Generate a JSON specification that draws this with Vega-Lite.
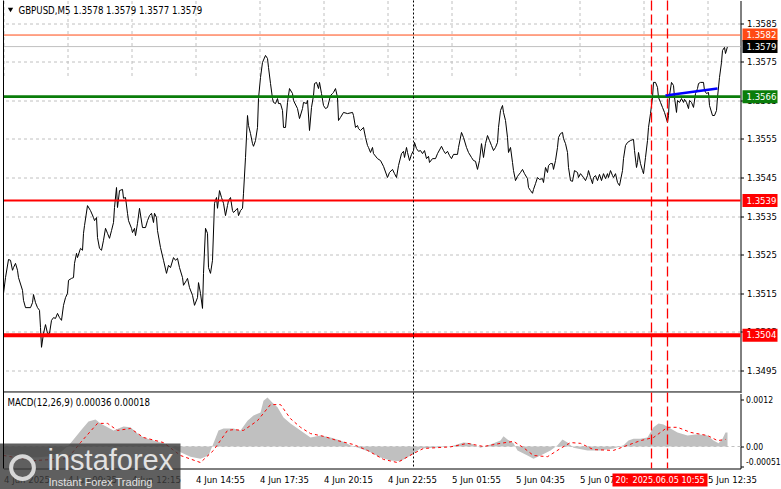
{
"$schema":"https://vega.github.io/schema/vega-lite/v6.json",
"width":737,"height":468,
"autosize":{"type":"none"},
"padding":{"left":3.5,"top":0.5,"right":40.5,"bottom":20.5},
"background":"#ffffff",
"config":{"view":{"stroke":null},"font":"DejaVu Sans Condensed, Liberation Sans, sans-serif","axis":{"labelFont":"DejaVu Sans Condensed, Liberation Sans, sans-serif"}},
"datasets":{
"price":[{"t":0,"p":1.35149},{"t":1,"p":1.3519},{"t":2.5,"p":1.35237},{"t":3.5,"p":1.35235},{"t":4.5,"p":1.35209},{"t":5,"p":1.35216},{"t":6,"p":1.35227},{"t":7,"p":1.35209},{"t":7.5,"p":1.3519},{"t":9.5,"p":1.35157},{"t":10,"p":1.35131},{"t":11,"p":1.35112},{"t":13.5,"p":1.35112},{"t":14.5,"p":1.35125},{"t":15,"p":1.35146},{"t":16,"p":1.35125},{"t":17,"p":1.35112},{"t":18,"p":1.35105},{"t":18.5,"p":1.3506},{"t":19,"p":1.35009},{"t":20,"p":1.35045},{"t":21,"p":1.35068},{"t":22,"p":1.35045},{"t":23,"p":1.35045},{"t":24,"p":1.35079},{"t":25,"p":1.35086},{"t":26,"p":1.35084},{"t":27,"p":1.35097},{"t":28,"p":1.35086},{"t":29,"p":1.35079},{"t":30,"p":1.35118},{"t":31,"p":1.35138},{"t":32,"p":1.35149},{"t":32.5,"p":1.35183},{"t":34,"p":1.35188},{"t":35,"p":1.3519},{"t":35.5,"p":1.35227},{"t":36.5,"p":1.35253},{"t":37,"p":1.35242},{"t":38.5,"p":1.35266},{"t":39.5,"p":1.35261},{"t":40,"p":1.35305},{"t":40.5,"p":1.35325},{"t":42,"p":1.35377},{"t":43.5,"p":1.35364},{"t":45,"p":1.35346},{"t":45.5,"p":1.35338},{"t":46.5,"p":1.35346},{"t":47,"p":1.35294},{"t":48,"p":1.35266},{"t":49,"p":1.35261},{"t":50,"p":1.35287},{"t":51,"p":1.35318},{"t":52,"p":1.35305},{"t":53,"p":1.35292},{"t":54,"p":1.35312},{"t":55,"p":1.35333},{"t":55.5,"p":1.35372},{"t":56.5,"p":1.35424},{"t":57,"p":1.35372},{"t":58,"p":1.35416},{"t":59.5,"p":1.35419},{"t":60,"p":1.35396},{"t":61,"p":1.35398},{"t":62,"p":1.35357},{"t":62.5,"p":1.35338},{"t":64,"p":1.35318},{"t":64.5,"p":1.35307},{"t":65.5,"p":1.35318},{"t":66,"p":1.35299},{"t":67,"p":1.35331},{"t":68,"p":1.3537},{"t":69.5,"p":1.3532},{"t":71,"p":1.3532},{"t":72,"p":1.35338},{"t":73,"p":1.35351},{"t":74,"p":1.35357},{"t":75,"p":1.35333},{"t":75.5,"p":1.35357},{"t":76.5,"p":1.35346},{"t":77,"p":1.35312},{"t":78.5,"p":1.35268},{"t":80,"p":1.35235},{"t":81.5,"p":1.35201},{"t":82.5,"p":1.35222},{"t":83.5,"p":1.35216},{"t":85,"p":1.35242},{"t":86,"p":1.35235},{"t":87,"p":1.3524},{"t":88,"p":1.35216},{"t":89.5,"p":1.3519},{"t":90,"p":1.3517},{"t":91.5,"p":1.35183},{"t":92,"p":1.35188},{"t":93,"p":1.35164},{"t":94.5,"p":1.35144},{"t":95.5,"p":1.35118},{"t":97,"p":1.35138},{"t":97.5,"p":1.35177},{"t":98.5,"p":1.35149},{"t":99.5,"p":1.3511},{"t":100,"p":1.35201},{"t":101,"p":1.35318},{"t":102,"p":1.35305},{"t":102.5,"p":1.35216},{"t":103.5,"p":1.35201},{"t":104.5,"p":1.35235},{"t":105.5,"p":1.35383},{"t":106.5,"p":1.35398},{"t":107,"p":1.3537},{"t":108,"p":1.35416},{"t":109,"p":1.35398},{"t":110,"p":1.35383},{"t":111,"p":1.35351},{"t":112,"p":1.35377},{"t":112.5,"p":1.3539},{"t":113.5,"p":1.35398},{"t":114.5,"p":1.35364},{"t":115,"p":1.35359},{"t":117,"p":1.3537},{"t":117.5,"p":1.35351},{"t":118.5,"p":1.35364},{"t":119.5,"p":1.3537},{"t":120,"p":1.35409},{"t":121,"p":1.35502},{"t":122,"p":1.35611},{"t":122.5,"p":1.35585},{"t":123.5,"p":1.35564},{"t":124.5,"p":1.35538},{"t":125,"p":1.35531},{"t":126,"p":1.35546},{"t":127,"p":1.3558},{"t":127.5,"p":1.35655},{"t":128.5,"p":1.3571},{"t":129.5,"p":1.35749},{"t":131,"p":1.35767},{"t":132,"p":1.35759},{"t":132.5,"p":1.35736},{"t":133.5,"p":1.35694},{"t":134.5,"p":1.35655},{"t":135,"p":1.35645},{"t":136,"p":1.35642},{"t":137,"p":1.35655},{"t":137.5,"p":1.35642},{"t":138.5,"p":1.35642},{"t":139.5,"p":1.35624},{"t":140,"p":1.3558},{"t":141,"p":1.3558},{"t":142,"p":1.35645},{"t":143,"p":1.35681},{"t":144.5,"p":1.35668},{"t":145,"p":1.3565},{"t":147,"p":1.35629},{"t":148,"p":1.35603},{"t":149.5,"p":1.35629},{"t":150,"p":1.35645},{"t":151.5,"p":1.35642},{"t":152,"p":1.3565},{"t":153,"p":1.35572},{"t":154,"p":1.35632},{"t":155,"p":1.35663},{"t":155.5,"p":1.35694},{"t":156.5,"p":1.35697},{"t":157.5,"p":1.35681},{"t":158,"p":1.35697},{"t":159,"p":1.35668},{"t":160,"p":1.35637},{"t":161,"p":1.35629},{"t":162,"p":1.35632},{"t":163.5,"p":1.35663},{"t":164.5,"p":1.35668},{"t":165,"p":1.35671},{"t":166,"p":1.35681},{"t":167,"p":1.35658},{"t":167.5,"p":1.35598},{"t":168.5,"p":1.35606},{"t":170,"p":1.35619},{"t":172,"p":1.35616},{"t":174.5,"p":1.35619},{"t":175,"p":1.35611},{"t":176,"p":1.3558},{"t":177,"p":1.35585},{"t":177.5,"p":1.35577},{"t":178.5,"p":1.35572},{"t":180,"p":1.3558},{"t":181,"p":1.35554},{"t":182,"p":1.35533},{"t":182.5,"p":1.35528},{"t":183.5,"p":1.35515},{"t":184.5,"p":1.35528},{"t":185,"p":1.35512},{"t":187,"p":1.35499},{"t":188.5,"p":1.35494},{"t":190,"p":1.35479},{"t":192,"p":1.3545},{"t":193,"p":1.35463},{"t":194.5,"p":1.35471},{"t":195.5,"p":1.3546},{"t":196.5,"p":1.3545},{"t":197.5,"p":1.35481},{"t":199,"p":1.35512},{"t":200,"p":1.35518},{"t":200.5,"p":1.35502},{"t":201.5,"p":1.35528},{"t":202,"p":1.35515},{"t":203,"p":1.35494},{"t":204,"p":1.3551},{"t":205,"p":1.3552},{"t":205.5,"p":1.35541},{"t":206.5,"p":1.35525},{"t":207.5,"p":1.35518},{"t":208.5,"p":1.3552},{"t":209.5,"p":1.35512},{"t":210.5,"p":1.3552},{"t":211.5,"p":1.35499},{"t":212.5,"p":1.35505},{"t":213,"p":1.35489},{"t":214.5,"p":1.35499},{"t":216,"p":1.35499},{"t":217,"p":1.35512},{"t":219,"p":1.35531},{"t":220,"p":1.3552},{"t":221,"p":1.35512},{"t":222,"p":1.35518},{"t":223,"p":1.35507},{"t":224,"p":1.35499},{"t":225,"p":1.3551},{"t":227,"p":1.3551},{"t":227.5,"p":1.35528},{"t":229,"p":1.35567},{"t":230,"p":1.35554},{"t":231.5,"p":1.35528},{"t":232.5,"p":1.35515},{"t":234,"p":1.35502},{"t":235,"p":1.35494},{"t":236,"p":1.35492},{"t":237,"p":1.35471},{"t":238,"p":1.35494},{"t":239,"p":1.35538},{"t":240,"p":1.35502},{"t":241,"p":1.35538},{"t":242,"p":1.35559},{"t":243,"p":1.35546},{"t":244,"p":1.35533},{"t":245,"p":1.3552},{"t":246,"p":1.35528},{"t":247,"p":1.35541},{"t":247.5,"p":1.3558},{"t":248.5,"p":1.35624},{"t":249.5,"p":1.35637},{"t":250,"p":1.35619},{"t":251,"p":1.35598},{"t":252,"p":1.35554},{"t":252.5,"p":1.35515},{"t":253.5,"p":1.35528},{"t":254.5,"p":1.35489},{"t":255,"p":1.35468},{"t":256,"p":1.35442},{"t":257,"p":1.35453},{"t":258.5,"p":1.35463},{"t":259.5,"p":1.35471},{"t":260.5,"p":1.3546},{"t":262,"p":1.35447},{"t":262.5,"p":1.35424},{"t":263.5,"p":1.35416},{"t":264.5,"p":1.35409},{"t":265,"p":1.35419},{"t":266,"p":1.35434},{"t":267,"p":1.3545},{"t":268,"p":1.35445},{"t":269.5,"p":1.35447},{"t":270,"p":1.35437},{"t":271,"p":1.35476},{"t":272,"p":1.35463},{"t":272.5,"p":1.35481},{"t":273.5,"p":1.35486},{"t":274.5,"p":1.35486},{"t":275,"p":1.35471},{"t":276,"p":1.35494},{"t":277,"p":1.35528},{"t":277.5,"p":1.35554},{"t":278.5,"p":1.35564},{"t":279.5,"p":1.35567},{"t":280,"p":1.35551},{"t":281,"p":1.35538},{"t":282,"p":1.35515},{"t":282.5,"p":1.35476},{"t":283.5,"p":1.35442},{"t":284.5,"p":1.3544},{"t":285.5,"p":1.35468},{"t":287,"p":1.35463},{"t":287.5,"p":1.3545},{"t":288.5,"p":1.3546},{"t":290,"p":1.3545},{"t":291,"p":1.35442},{"t":292,"p":1.35455},{"t":292.5,"p":1.35468},{"t":293.5,"p":1.3545},{"t":294.5,"p":1.35434},{"t":295,"p":1.3545},{"t":296,"p":1.35455},{"t":297,"p":1.35442},{"t":298,"p":1.35458},{"t":299,"p":1.35442},{"t":300,"p":1.3546},{"t":301,"p":1.35447},{"t":302,"p":1.3546},{"t":302.5,"p":1.3545},{"t":303.5,"p":1.35468},{"t":304.5,"p":1.35455},{"t":305,"p":1.3545},{"t":306,"p":1.3546},{"t":307,"p":1.35437},{"t":308,"p":1.35429},{"t":309.5,"p":1.35468},{"t":310,"p":1.35499},{"t":311,"p":1.35533},{"t":312,"p":1.35541},{"t":313.5,"p":1.35546},{"t":315,"p":1.35549},{"t":315.5,"p":1.3552},{"t":316.5,"p":1.35476},{"t":317,"p":1.35489},{"t":317.5,"p":1.35515},{"t":318.5,"p":1.35486},{"t":319.5,"p":1.35468},{"t":320,"p":1.3546},{"t":321,"p":1.35502},{"t":322,"p":1.35546},{"t":322.5,"p":1.3558},{"t":323.5,"p":1.35616},{"t":324.5,"p":1.35658},{"t":325,"p":1.35697},{"t":326,"p":1.35697},{"t":327,"p":1.35684},{"t":327.5,"p":1.35658},{"t":328.5,"p":1.35645},{"t":329.5,"p":1.35632},{"t":330.5,"p":1.35619},{"t":332,"p":1.35593},{"t":332.5,"p":1.35611},{"t":333,"p":1.35663},{"t":334,"p":1.35697},{"t":335,"p":1.35689},{"t":335.5,"p":1.35658},{"t":336.5,"p":1.35619},{"t":337,"p":1.3565},{"t":338,"p":1.35645},{"t":339,"p":1.35655},{"t":340,"p":1.35645},{"t":340.5,"p":1.35653},{"t":341.5,"p":1.35645},{"t":342.5,"p":1.35629},{"t":343,"p":1.3565},{"t":344,"p":1.35645},{"t":345,"p":1.35632},{"t":346,"p":1.35668},{"t":347,"p":1.35681},{"t":347.5,"p":1.35694},{"t":348.5,"p":1.35697},{"t":350,"p":1.35697},{"t":350.5,"p":1.35676},{"t":351.5,"p":1.35668},{"t":352.5,"p":1.35671},{"t":353,"p":1.35637},{"t":354.5,"p":1.35611},{"t":355.5,"p":1.35611},{"t":356.5,"p":1.35624},{"t":357,"p":1.35658},{"t":358,"p":1.3571},{"t":359,"p":1.35749},{"t":359.5,"p":1.3578},{"t":360.5,"p":1.35788},{"t":361,"p":1.35772},{"t":362,"p":1.3579}],
"hist":[{"t":0,"h":-0.0002},{"t":8.5,"h":-0.00025},{"t":16,"h":-0.00028},{"t":23.5,"h":-0.00025},{"t":28.5,"h":-0.00015},{"t":32,"h":0},{"t":33.5,"h":0.00008},{"t":39.5,"h":0.00046},{"t":42.5,"h":0.00064},{"t":46,"h":0.00069},{"t":48.5,"h":0.00059},{"t":52,"h":0.00049},{"t":55,"h":0.00041},{"t":60,"h":0.00051},{"t":63.5,"h":0.00049},{"t":67,"h":0.00033},{"t":70,"h":0.00023},{"t":75,"h":0.00015},{"t":80,"h":0.00008},{"t":83.5,"h":0},{"t":88.5,"h":-0.00015},{"t":93.5,"h":-0.00026},{"t":98.5,"h":-0.00031},{"t":102.5,"h":-0.00023},{"t":105,"h":0.00008},{"t":107.5,"h":0.00041},{"t":110,"h":0.00046},{"t":115,"h":0.00046},{"t":118.5,"h":0.00041},{"t":122,"h":0.00066},{"t":125,"h":0.00079},{"t":128.5,"h":0.00087},{"t":130,"h":0.00117},{"t":132,"h":0.00125},{"t":134.5,"h":0.00112},{"t":137,"h":0.001},{"t":140,"h":0.00074},{"t":143.5,"h":0.00059},{"t":148.5,"h":0.00041},{"t":153.5,"h":0.00023},{"t":158.5,"h":0.00028},{"t":163.5,"h":0.00023},{"t":168.5,"h":0.00015},{"t":173.5,"h":0.00003},{"t":178.5,"h":-0.00005},{"t":183.5,"h":-0.00015},{"t":188.5,"h":-0.00028},{"t":193.5,"h":-0.00036},{"t":198.5,"h":-0.00038},{"t":203.5,"h":-0.00023},{"t":208.5,"h":-0.00005},{"t":215,"h":-0.00003},{"t":223.5,"h":0},{"t":230,"h":0.0001},{"t":233.5,"h":0.00008},{"t":238.5,"h":-0.00003},{"t":243.5,"h":0.00005},{"t":248.5,"h":0.00015},{"t":250,"h":0.00026},{"t":252,"h":0.00018},{"t":255,"h":0.00008},{"t":257,"h":-0.0001},{"t":262,"h":-0.00023},{"t":265,"h":-0.00031},{"t":268.5,"h":-0.00023},{"t":273.5,"h":-0.0001},{"t":277,"h":0.00003},{"t":279.5,"h":0.00018},{"t":282,"h":0.0001},{"t":285,"h":-0.00003},{"t":292,"h":-0.0001},{"t":298.5,"h":-0.0001},{"t":305,"h":-0.00005},{"t":310,"h":0.00003},{"t":312.5,"h":0.00015},{"t":315,"h":0.0002},{"t":318.5,"h":0.0002},{"t":322,"h":0.00023},{"t":325,"h":0.00049},{"t":327.5,"h":0.00059},{"t":330,"h":0.00056},{"t":333.5,"h":0.00046},{"t":337,"h":0.00036},{"t":342,"h":0.00028},{"t":347,"h":0.00031},{"t":352,"h":0.00028},{"t":355,"h":0.00015},{"t":357.5,"h":0.00008},{"t":359.5,"h":0.0002},{"t":361,"h":0.00036},{"t":362,"h":0.00036}],
"sig":[{"t":0,"s":-0.00023},{"t":15,"s":-0.00036},{"t":32,"s":-0.00031},{"t":38.5,"s":0.0001},{"t":47,"s":0.00059},{"t":52,"s":0.00059},{"t":57,"s":0.00041},{"t":63.5,"s":0.00046},{"t":70,"s":0.00023},{"t":80,"s":0.0001},{"t":88.5,"s":-0.00023},{"t":98.5,"s":-0.00041},{"t":105,"s":-0.0001},{"t":112,"s":0.00041},{"t":115,"s":0.00043},{"t":120,"s":0.00041},{"t":127,"s":0.00066},{"t":133.5,"s":0.00107},{"t":138.5,"s":0.00107},{"t":143.5,"s":0.00071},{"t":148.5,"s":0.00049},{"t":153.5,"s":0.00033},{"t":160,"s":0.00026},{"t":167,"s":0.00015},{"t":175,"s":0.00005},{"t":182,"s":-0.0001},{"t":190,"s":-0.00033},{"t":197,"s":-0.00041},{"t":205,"s":-0.00018},{"t":210,"s":-0.00005},{"t":223.5,"s":-0.00001},{"t":232,"s":0.00008},{"t":240,"s":0},{"t":248.5,"s":0.00008},{"t":255,"s":0.00013},{"t":260,"s":-0.00003},{"t":265,"s":-0.00023},{"t":272,"s":-0.00026},{"t":278.5,"s":-0.00005},{"t":283.5,"s":0.0001},{"t":288.5,"s":0.00008},{"t":295,"s":-0.00008},{"t":305,"s":-0.0001},{"t":312,"s":0.00003},{"t":318.5,"s":0.00015},{"t":325,"s":0.00023},{"t":332,"s":0.00049},{"t":337,"s":0.00049},{"t":343.5,"s":0.00036},{"t":352,"s":0.00028},{"t":357,"s":0.00015},{"t":361,"s":0.00018}],
"levels":[{"p":1.3582,"kind":"resistance2"},{"p":1.3579,"kind":"bid"},{"p":1.3566,"kind":"resistance1"},{"p":1.3539,"kind":"support1"},{"p":1.3504,"kind":"support2"}]
},
"layer":[
{"layer":[
 {"data":{"name":"hist"},"mark":{"type":"area","color":"#c0c0c0","interpolate":"linear"},
  "encoding":{"x":{"field":"t","type":"quantitative","scale":{"domain":[0,368.5],"nice":false,"zero":false},"title":null},
   "y":{"field":"h","type":"quantitative","scale":{"domain":[-0.000562,0.001353],"range":[468,393],"nice":false,"zero":false},"title":null,
    "axis":{"orient":"right","values":[0.0012,0,-0.00051],"labelExpr":"datum.value > 0.001 ? '0.0012' : (datum.value < 0 ? '-0.00051' : '0.00')","labelBaseline":{"condition":{"test":"datum.value < 0","value":"bottom"},"value":"middle"},"grid":false,"ticks":true,"tickSize":3,"tickColor":"#000000","domainColor":"#000000","labelColor":"#000000","labelPadding":2,"labelFontSize":8.6,"labelFlush":false,"labelOverlap":false,"labelBound":false,"zindex":0,"title":null}},
   "y2":{"datum":0}}},
 {"data":{"values":[{"m":0}]},"mark":{"type":"rule","color":"#c0c0c0","strokeDash":[3,3],"strokeWidth":1},
  "encoding":{"y":{"field":"m","type":"quantitative","title":null}}},
 {"data":{"name":"sig"},"mark":{"type":"line","color":"#ff0000","strokeDash":[3,3],"strokeWidth":1},
  "encoding":{"x":{"field":"t","type":"quantitative","title":null},"y":{"field":"s","type":"quantitative","title":null}}},
 {"data":{"values":[{}]},"mark":{"type":"text","text":"MACD(12,26,9) 0.00036 0.00018","align":"left","baseline":"middle","fontSize":9.6,"color":"#000000"},
  "encoding":{"x":{"datum":2},"y":{"datum":0.00112}}},
 {"data":{"values":[{}]},"mark":{"type":"rect","color":"#3c3c3c","opacity":0.82},
  "encoding":{"x":{"datum":-1.75},"x2":{"datum":88.5},"y":{"datum":0.000076},"y2":{"datum":-0.00111}}},
 {"data":{"values":[{}]},"mark":{"type":"point","shape":"circle","size":520,"filled":false,"stroke":"#d8d8d8","strokeWidth":4,"opacity":1},
  "encoding":{"x":{"datum":9.5},"y":{"datum":-0.00054}}},
 {"data":{"values":[{}]},"mark":{"type":"text","text":"instaforex","align":"left","baseline":"alphabetic","fontSize":29,"font":"Liberation Sans","color":"#e2e2e2"},
  "encoding":{"x":{"datum":22},"y":{"datum":-0.000613}}},
 {"data":{"values":[{}]},"mark":{"type":"text","text":"Instant Forex Trading","align":"left","baseline":"alphabetic","fontSize":11,"font":"Liberation Sans","color":"#e2e2e2"},
  "encoding":{"x":{"datum":22.5},"y":{"datum":-0.000997}}},
 {"data":{"values":[{}]},"mark":{"type":"rect","color":"#ff0000"},
  "encoding":{"x":{"datum":304.5},"x2":{"datum":352},"y":{"datum":-0.00069},"y2":{"datum":-0.001022}}},
 {"data":{"values":[{}]},"mark":{"type":"text","text":"20:","align":"left","baseline":"middle","fontSize":9,"color":"#ffffff"},
  "encoding":{"x":{"datum":306},"y":{"datum":-0.000856}}},
 {"data":{"values":[{}]},"mark":{"type":"text","text":"2025.06.05 10:55","align":"left","baseline":"middle","fontSize":9,"color":"#ffffff"},
  "encoding":{"x":{"datum":314.5},"y":{"datum":-0.000856}}}
]},
{"layer":[
 {"data":{"name":"price"},"mark":{"type":"line","color":"#000000","strokeWidth":1},
  "encoding":{"x":{"field":"t","type":"quantitative","scale":{"domain":[0,368.5],"nice":false,"zero":false},"title":null,
    "axis":{"values":[0,16,32,48,64,80,96,112,128,144,160,176,192,208,224,240,256,272,288,304,320,336,352,368],"labelExpr":"datum.value % 32 == 0 ? ['4 Jun 2025','4 Jun 09:35','4 Jun 12:15','4 Jun 14:55','4 Jun 17:35','4 Jun 20:15','4 Jun 22:55','5 Jun 01:55','5 Jun 04:35','5 Jun 07:15','5 Jun 09:55','5 Jun 12:35'][datum.value/32] : ''","labelAlign":"left","labelBaseline":"top","labelPadding":6,"labelOverlap":false,"labelBound":false,"labelFlush":false,"ticks":false,"grid":true,"gridColor":"#c0c0c0","gridDash":[3,3],"gridWidth":1,"domainColor":"#000000","labelColor":"#000000","labelFontSize":9.5,"zindex":0,"title":null}},
   "y":{"field":"p","type":"quantitative","scale":{"domain":[1.348916,1.359097],"range":[392,0],"nice":false,"zero":false},"title":null,
    "axis":{"orient":"right","values":[1.3495,1.3505,1.3515,1.3525,1.3535,1.3545,1.3555,1.3565,1.3575,1.3585],"format":".4f","grid":true,"gridColor":"#c0c0c0","gridDash":[3,3],"gridWidth":1,"ticks":true,"tickSize":3,"tickColor":"#000000","domainColor":"#000000","labelColor":"#000000","labelPadding":3,"labelFontSize":9.5,"labelFlush":false,"labelOverlap":false,"labelBound":false,"zindex":0,"title":null}}}},
 {"data":{"name":"levels"},"transform":[{"filter":"datum.kind == 'resistance2'"}],"mark":{"type":"rule","color":"#ff4a14","strokeWidth":1},
  "encoding":{"y":{"field":"p","type":"quantitative","title":null}}},
 {"data":{"name":"levels"},"transform":[{"filter":"datum.kind == 'bid'"}],"mark":{"type":"rule","color":"#c0c0c0","strokeWidth":1},
  "encoding":{"y":{"field":"p","type":"quantitative","title":null}}},
 {"data":{"name":"levels"},"transform":[{"filter":"datum.kind == 'resistance1'"}],"mark":{"type":"rule","color":"#0a7d0a","strokeWidth":2.6},
  "encoding":{"y":{"field":"p","type":"quantitative","title":null}}},
 {"data":{"name":"levels"},"transform":[{"filter":"datum.kind == 'support1'"}],"mark":{"type":"rule","color":"#ff0000","strokeWidth":2},
  "encoding":{"y":{"field":"p","type":"quantitative","title":null}}},
 {"data":{"name":"levels"},"transform":[{"filter":"datum.kind == 'support2'"}],"mark":{"type":"rule","color":"#ff0000","strokeWidth":4},
  "encoding":{"y":{"field":"p","type":"quantitative","title":null}}},
 {"data":{"values":[{"t":331,"p":1.35663},{"t":357,"p":1.35681}]},"mark":{"type":"line","color":"#0000ff","strokeWidth":2.5},
  "encoding":{"x":{"field":"t","type":"quantitative","title":null},"y":{"field":"p","type":"quantitative","title":null}}},
 {"data":{"values":[{}]},"mark":{"type":"rule","color":"#000000","strokeWidth":1},
  "encoding":{"y":{"datum":1.34893}}},
 {"data":{"name":"levels"},"mark":{"type":"rect","yOffset":-6.5,"y2Offset":6.5},
  "encoding":{"x":{"datum":369.5},"x2":{"datum":387},"y":{"field":"p","type":"quantitative","title":null},"y2":{"field":"p"},
   "fill":{"field":"kind","type":"nominal","scale":{"domain":["resistance2","bid","resistance1","support1","support2"],"range":["#ff4a14","#000000","#0a7d0a","#ff0000","#ff0000"]},"legend":null}}},
 {"data":{"name":"levels"},"mark":{"type":"text","align":"left","baseline":"middle","fontSize":9.5,"color":"#ffffff"},
  "encoding":{"x":{"datum":371.5},"y":{"field":"p","type":"quantitative","title":null},"text":{"field":"p","type":"quantitative","format":".4f"}}},
 {"data":{"values":[{}]},"mark":{"type":"point","shape":"triangle-down","size":28,"filled":true,"color":"#000000","opacity":1},
  "encoding":{"x":{"datum":3.5},"y":{"datum":1.35885}}},
 {"data":{"values":[{}]},"mark":{"type":"text","text":"GBPUSD,M5  1.3578 1.3579 1.3577 1.3579","align":"left","baseline":"middle","fontSize":9.6,"color":"#000000"},
  "encoding":{"x":{"datum":7.5},"y":{"datum":1.35882}}}
]},
{"data":{"values":[{}]},"mark":{"type":"rule","color":"#000000","strokeWidth":1},
 "encoding":{"x":{"datum":0}}},
{"data":{"values":[{}]},"mark":{"type":"rule","color":"#000000","strokeWidth":1,"strokeDash":[2,2]},
 "encoding":{"x":{"datum":205}}},
{"data":{"values":[{"t":324},{"t":332}]},"mark":{"type":"rule","stroke":"#ff0000","color":"#ff0000","strokeWidth":1.3,"strokeDash":[10,4],"opacity":1},
 "encoding":{"x":{"field":"t","type":"quantitative","title":null}}}
],
"resolve":{"scale":{"y":"independent"}}
}
